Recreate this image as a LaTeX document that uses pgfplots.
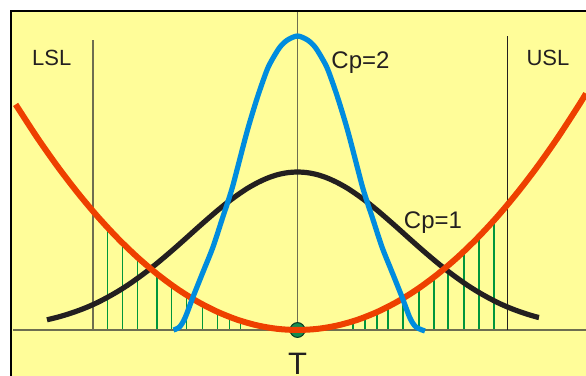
\documentclass[border=0pt]{standalone}
\usepackage{fontspec}
\setmainfont{Liberation Sans}
\usepackage{pgfplots}
\pgfplotsset{compat=1.18}

\definecolor{bgyellow}{RGB}{255,253,153}
\definecolor{cpred}{RGB}{238,64,0}
\definecolor{cpblue}{RGB}{0,140,222}
\definecolor{cpblack}{RGB}{35,31,32}
\definecolor{hatchgreen}{RGB}{0,150,60}
\definecolor{dotgreen}{RGB}{20,140,80}
\definecolor{refgray}{RGB}{110,110,80}

\begin{document}
\begin{tikzpicture}
\begin{axis}[
    name=ax,
    width=293pt, height=188pt, scale only axis,
    xmin=0, xmax=586, ymin=-46, ymax=330,
    axis lines=none,
    clip=true,
    clip marker paths=true,
]
% fondo y marco
\fill[white] (axis cs:0,-46) rectangle (axis cs:586,330);
\fill[bgyellow] (axis cs:11,-50) rectangle (axis cs:590,319);
\draw[black, line width=1pt] (axis cs:11,-50) -- (axis cs:11,319) -- (axis cs:590,319);

% rayado verde bajo la parabola
\addplot[ycomb, hatchgreen, line width=0.6pt, mark=none] coordinates {
    (107.7,102.3) (122.7,86.8) (137.7,72.5) (157.0,56.1) (171.7,44.9)
    (186.7,34.9) (202.3,25.7) (217.7,18.1) (229.3,13.2) (240.7,9.2)
    (353,8.7) (365,12.9) (377,17.9) (388,23.3) (403,31.6) (419,41.9)
    (434,52.9) (448,64.3) (464,78.7) (479,93.6) (494,109.7)
};

% eje base y limites
\addplot[refgray, line width=0.75pt, mark=none] coordinates {(13,0) (586,0)};
\addplot[refgray, line width=0.6pt, mark=none] coordinates {(93,0) (93,290)};
\addplot[refgray, line width=0.6pt, mark=none] coordinates {(297.5,0) (297.5,318)};
\addplot[cpblack, line width=0.6pt, mark=none] coordinates {(507.5,0) (507.5,294)};

% Cp=1
\addplot[cpblack, line width=2.6pt, smooth, mark=none] coordinates {
    (47,10.2) (57.5,12.8) (67.5,15.7) (77.5,19.1) (87.5,23.0) (97.5,27.5)
    (107.5,32.7) (117.5,38.4) (127.5,44.7) (137.5,51.7) (147.5,59.1)
    (157.5,67.1) (167.5,75.5) (177.5,84.2) (187.5,93.1) (197.5,102.1)
    (207.5,110.9) (217.5,119.5) (227.5,127.6) (237.5,135.0) (247.5,141.7)
    (257.5,147.3) (267.5,151.9) (277.5,155.3) (287.5,157.3) (297.5,158.0)
    (307.5,157.3) (317.5,155.3) (327.5,151.9) (337.5,147.3) (347.5,141.7)
    (357.5,135.0) (367.5,127.6) (377.5,119.5) (387.5,110.9) (397.5,102.1)
    (407.5,93.1) (417.5,84.2) (427.5,75.5) (437.5,67.1) (447.5,59.1)
    (457.5,51.7) (467.5,44.7) (477.5,38.4) (487.5,32.7) (497.5,27.5)
    (507.5,23.0) (517.5,19.1) (527.5,15.7) (537.5,12.8) (539,12.5)
};

% punto T
\addplot[only marks, mark=*, mark size=3.7pt,
    mark options={fill=dotgreen, draw=black!60!dotgreen, line width=0.5pt}]
    coordinates {(297.5,0)};

% funcion de perdida
\addplot[cpred, line width=3pt, smooth, mark=none] coordinates {
    (16,225.0) (17.5,222.7) (37.5,192.0) (57.5,163.6) (77.5,137.5)
    (97.5,113.6) (117.5,92.0) (137.5,72.7) (157.5,55.7) (177.5,40.9)
    (197.5,28.4) (217.5,18.18) (237.5,10.22) (257.5,4.54) (277.5,1.14)
    (297.5,0) (317.5,1.14) (337.5,4.54) (357.5,10.22) (377.5,18.18)
    (397.5,28.4) (417.5,40.9) (437.5,55.7) (457.5,72.7) (477.5,92.0)
    (497.5,113.6) (517.5,137.5) (537.5,163.6) (557.5,192.0) (577.5,222.7)
    (586,236.4)
};

% Cp=2
\addplot[cpblue, line width=2.6pt, smooth, mark=none] coordinates {
    (173.5,0) (179.5,3) (185,12) (193,33) (203,58) (213,83) (222.5,112)
    (227.5,127) (232.5,143) (237.5,162) (247.5,200) (257.5,233) (267,260)
    (272.5,271) (280,283) (287.5,290) (297.5,294) (307.5,290) (315,283)
    (322.5,271) (328,260) (337.5,233) (347.5,200) (357.5,162) (362.5,143)
    (367.5,127) (372.5,112) (382,83) (392,58) (402,33) (410,12) (416,3)
    (425,-1)
};

% textos
\node[font=\fontsize{11}{13}\selectfont, text=cpblack, anchor=base] at (axis cs:51.7,264) {LSL};
\node[font=\fontsize{11}{13}\selectfont, text=cpblack, anchor=base] at (axis cs:548,264) {USL};
\node[font=\fontsize{12}{14}\selectfont, text=cpblack, anchor=base] at (axis cs:360.5,261) {Cp=2};
\node[font=\fontsize{12}{14}\selectfont, text=cpblack, anchor=base] at (axis cs:433,101) {Cp=1};
\node[font=\fontsize{15.5}{18}\selectfont, text=cpblack, anchor=base] at (axis cs:297.5,-45) {T};
\end{axis}
\pgfresetboundingbox
\useasboundingbox (ax.south west) rectangle (ax.north east);
\end{tikzpicture}
\end{document}
